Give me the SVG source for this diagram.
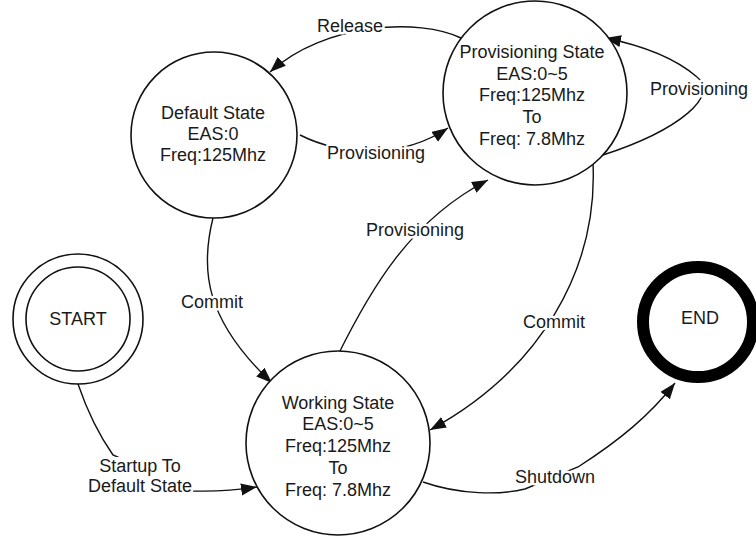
<svg xmlns="http://www.w3.org/2000/svg" width="756" height="536" viewBox="0 0 756 536">
  <style>
    .state { fill: #ffffff; stroke: #111111; stroke-width: 1.6; }
    .txt { font-family: "Liberation Sans", Arial, sans-serif; font-size: 18px; fill: #1a1a1a; text-anchor: middle; }
    .edge { fill: none; stroke: #111111; stroke-width: 1.4; marker-end: url(#arrow); }
    .lbl { font-family: "Liberation Sans", Arial, sans-serif; font-size: 18px; fill: #1a1a1a; text-anchor: middle; stroke: #ffffff; stroke-width: 5; paint-order: stroke; stroke-linejoin: round; }
  </style>
  <defs>
    <marker id="arrow" markerUnits="userSpaceOnUse" markerWidth="18" markerHeight="14" refX="16" refY="6" orient="auto">
      <path d="M0,0 L16,6 L0,12 Z" fill="#111111"/>
    </marker>
  </defs>
  <rect width="756" height="536" fill="#ffffff"/>

  <!-- transitions -->
  <g id="connectors">
    <path class="edge" d="M 461 38 C 420 18, 325 22, 270 72"/>
    <path class="edge" d="M 300 135 C 340 155, 400 160, 448 128"/>
    <path class="edge" d="M 603 155 C 680 130, 720 95, 697 77 C 675 58, 640 45, 605 38"/>
    <path class="edge" d="M 337 357 C 370 290, 410 220, 488 180"/>
    <path class="edge" d="M 213 218 C 200 270, 205 320, 272 383"/>
    <path class="edge" d="M 593 163 C 598 270, 540 370, 430 430"/>
    <path class="edge" d="M 78 384 Q 92 425, 113 455 L 193 491 Q 225 492, 257 487"/>
    <path class="edge" d="M 423 482 C 460 495, 500 495, 525 489 L 578 467 C 620 440, 650 415, 675 383"/>
    <text class="lbl" x="350" y="32">Release</text>
    <text class="lbl" x="376" y="159">Provisioning</text>
    <text class="lbl" x="699" y="95">Provisioning</text>
    <text class="lbl" x="415" y="236">Provisioning</text>
    <text class="lbl" x="212" y="308">Commit</text>
    <text class="lbl" x="554" y="328">Commit</text>
    <rect x="88" y="457" width="105" height="40" fill="#ffffff"/>
    <text class="lbl" x="140" y="472">Startup To</text>
    <text class="lbl" x="140" y="492">Default State</text>
    <text class="lbl" x="555" y="483">Shutdown</text>
  </g>

  <g id="start">
    <circle class="state" cx="78" cy="319" r="65"/>
    <circle class="state" cx="78" cy="319" r="52"/>
    <text class="txt" x="78" y="325">START</text>
  </g>

  <g id="end">
    <circle cx="698" cy="322" r="55" fill="#ffffff" stroke="#000000" stroke-width="12"/>
    <text class="txt" x="700" y="324">END</text>
  </g>

  <g id="default-state">
    <circle class="state" cx="214" cy="135" r="83"/>
    <text class="txt" x="213" y="119">Default State</text>
    <text class="txt" x="213" y="140">EAS:0</text>
    <text class="txt" x="213" y="161">Freq:125Mhz</text>
  </g>

  <g id="provisioning-state">
    <circle class="state" cx="535" cy="93" r="92"/>
    <text class="txt" x="532" y="58">Provisioning State</text>
    <text class="txt" x="532" y="80">EAS:0~5</text>
    <text class="txt" x="532" y="101">Freq:125Mhz</text>
    <text class="txt" x="532" y="123">To</text>
    <text class="txt" x="532" y="145">Freq: 7.8Mhz</text>
  </g>

  <g id="working-state">
    <circle class="state" cx="338" cy="443" r="92"/>
    <text class="txt" x="338" y="409">Working State</text>
    <text class="txt" x="338" y="430">EAS:0~5</text>
    <text class="txt" x="338" y="452">Freq:125Mhz</text>
    <text class="txt" x="338" y="474">To</text>
    <text class="txt" x="338" y="496">Freq: 7.8Mhz</text>
  </g>
</svg>
